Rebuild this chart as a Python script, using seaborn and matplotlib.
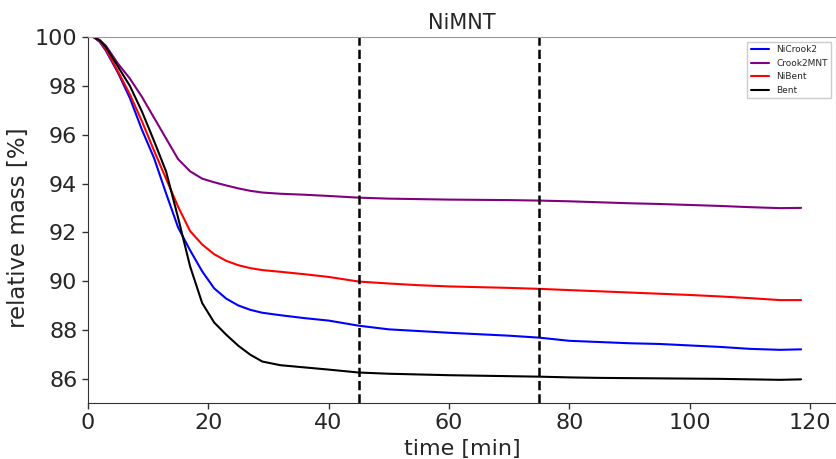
import matplotlib
matplotlib.use("Agg")
import matplotlib.pyplot as plt
import seaborn as sns
import pandas as pd

time_min = [1, 2, 3, 5, 7, 9, 11, 13, 15, 17, 19, 21, 23, 25, 27, 29, 32, 36, 40,
            45, 50, 55, 60, 65, 70, 75, 80, 85, 90, 95, 100, 105, 110, 115, 118.5]

nicrook2 = [100, 99.8, 99.45, 98.55, 97.5, 96.2, 95.05, 93.6, 92.2, 91.26, 90.4, 89.7,
            89.28, 89.0, 88.82, 88.7, 88.6, 88.48, 88.38, 88.17, 88.02, 87.95, 87.88,
            87.82, 87.76, 87.68, 87.55, 87.5, 87.45, 87.42, 87.36, 87.3, 87.22, 87.18, 87.2]
crook2mnt = [100, 99.88, 99.65, 98.92, 98.3, 97.55, 96.7, 95.85, 95.0, 94.5, 94.2, 94.05,
             93.92, 93.8, 93.7, 93.63, 93.58, 93.54, 93.49, 93.42, 93.38, 93.36, 93.34,
             93.33, 93.32, 93.3, 93.27, 93.23, 93.19, 93.16, 93.12, 93.08, 93.03, 92.99, 93.0]
nibent = [100, 99.82, 99.5, 98.6, 97.65, 96.55, 95.35, 94.2, 93.05, 92.05, 91.5, 91.1,
          90.83, 90.65, 90.53, 90.45, 90.38, 90.28, 90.17, 89.98, 89.9, 89.83, 89.78,
          89.75, 89.72, 89.68, 89.63, 89.58, 89.53, 89.48, 89.43, 89.37, 89.3, 89.22, 89.22]
bent = [100, 99.87, 99.6, 98.8, 98.0, 96.95, 95.75, 94.5, 92.6, 90.6, 89.1, 88.3,
        87.8, 87.35, 86.98, 86.7, 86.55, 86.46, 86.37, 86.25, 86.2, 86.17, 86.14,
        86.12, 86.1, 86.08, 86.05, 86.03, 86.02, 86.01, 86.0, 85.99, 85.97, 85.95, 85.97]

series_names = ["NiCrook2", "Crook2MNT", "NiBent", "Bent"]
series_values = [nicrook2, crook2mnt, nibent, bent]
colors = ["blue", "purple", "red", "black"]
vlines = [45, 75]

rows = []
for name, vals in zip(series_names, series_values):
    for t, v in zip(time_min, vals):
        rows.append({"time": t, "mass": v, "sample": name})
df = pd.DataFrame(rows)

sns.set_style("white")
plt.rcParams["font.family"] = ["DejaVu Sans"]

fig = plt.figure(figsize=(8.36, 4.59), dpi=100)
ax = fig.add_axes([0.105, 0.122, 0.895, 0.797])

sns.lineplot(data=df, x="time", y="mass", hue="sample", hue_order=series_names,
             palette=dict(zip(series_names, colors)), linewidth=1.5, ax=ax)

for xv in vlines:
    ax.axvline(xv, color="black", linestyle="--", linewidth=1.8)

ax.set_xlim(0, 124.3)
ax.set_ylim(85, 100)
ax.set_xticks([0, 20, 40, 60, 80, 100, 120])
ax.set_yticks([86, 88, 90, 92, 94, 96, 98, 100])
ax.tick_params(axis="both", labelsize=16, direction="out", length=4, width=1,
               left=True, bottom=True, color="#333333")
ax.set_xlabel("time [min]", fontsize=16)
ax.set_ylabel("relative mass [%]", fontsize=16.5)
ax.yaxis.set_label_coords(-0.077, 0.48)
ax.set_title("NiMNT", fontsize=15)
for s in ["left", "bottom"]:
    ax.spines[s].set_color("#333333")
for s in ["top", "right"]:
    ax.spines[s].set_color("#999999")

handles, labels = ax.get_legend_handles_labels()
ax.legend(handles, labels, loc="upper right", fontsize=6.5, frameon=True,
          framealpha=1, edgecolor="#cccccc", fancybox=False)

fig.savefig("out.png", dpi=100)
